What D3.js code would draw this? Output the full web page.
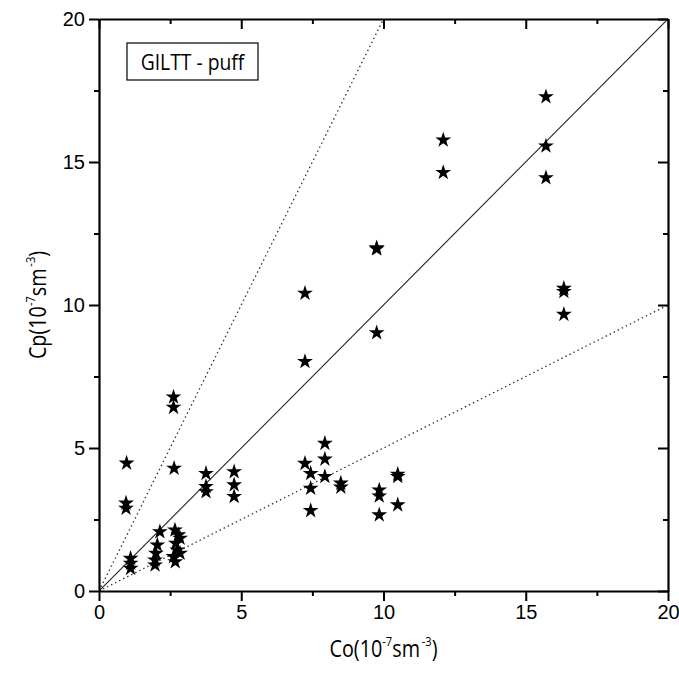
<!DOCTYPE html>
<html><head><meta charset="utf-8">
<script src="https://cdn.jsdelivr.net/npm/d3@7"></script>
<style>body{margin:0;background:#fff}</style>
</head><body>
<svg id="c" width="679" height="682"></svg>
<script>
const coValues = [0.97, 0.95, 0.95, 1.11, 1.11, 1.11,
  2.14, 2.05, 2.0, 1.97, 1.97,
  2.67, 2.79, 2.85, 2.7, 2.75, 2.62, 2.68, 2.85, 2.64, 2.62, 2.62,
  3.76, 3.76, 3.76, 4.75, 4.75, 4.75,
  7.24, 7.24, 7.24, 7.44, 7.44, 7.44, 7.94, 7.94, 7.94, 8.5, 8.5,
  9.76, 9.76, 9.76, 9.85, 9.85, 9.85, 10.5, 10.5, 10.5,
  12.1, 12.1, 15.71, 15.71, 15.71, 16.34, 16.34, 16.34];
const cpValues = [4.47, 3.07, 2.89, 1.14, 0.97, 0.79,
  2.07, 1.61, 1.32, 1.08, 0.91,
  2.13, 1.96, 1.84, 1.67, 1.43, 1.2, 1.02, 1.32, 4.29, 6.78, 6.42,
  4.11, 3.65, 3.47, 4.17, 3.71, 3.30,
  10.41, 8.02, 4.46, 4.11, 3.59, 2.81, 5.16, 4.61, 4.0, 3.77, 3.63,
  11.96, 12.0, 9.03, 3.53, 3.32, 2.66, 4.08, 4.0, 3.01,
  15.77, 14.63, 17.28, 15.56, 14.45, 10.58, 10.47, 9.67];
const xTicks = [0, 5, 10, 15, 20];
const yTicks = [0, 5, 10, 15, 20];
const minorTicks = [2.5, 7.5, 12.5, 17.5];
const refLines = [
  {slope: 1, dash: null},
  {slope: 2, dash: "1.5,3"},
  {slope: 0.5, dash: "1.5,3"}
];
const labelText = "GILTT - puff";

const svg = d3.select("#c");
const L = 99, R = 668, T = 19, B = 591;
const x = d3.scaleLinear().domain([0, 20]).range([L, R]);
const y = d3.scaleLinear().domain([0, 20]).range([B, T]);
const plot = svg.append("g");

svg.append("clipPath").attr("id","cl").append("rect")
  .attr("x", L).attr("y", T).attr("width", R-L).attr("height", B-T);
refLines.forEach(r => {
  const xe = Math.min(20, 20 / r.slope);
  plot.append("line").attr("clip-path","url(#cl)")
    .attr("x1", x(0)).attr("y1", y(0)).attr("x2", x(xe)).attr("y2", y(xe * r.slope))
    .attr("stroke", r.dash ? "#333" : "#222").attr("stroke-width", r.dash ? 1.3 : 1.1)
    .attr("stroke-dasharray", r.dash);
});

const star = d3.symbol().type(d3.symbolStar).size(78);
plot.selectAll("path.pt").data(coValues.map((v,i)=>[v, cpValues[i]])).enter()
  .append("path").attr("class","pt")
  .attr("d", star)
  .attr("transform", d => `translate(${x(d[0])},${y(d[1])})`)
  .attr("fill", "#000");

function styleAxis(g){
  g.select(".domain").attr("stroke-width", 2.2).attr("stroke","#000");
  g.selectAll(".tick line").attr("stroke-width", 2).attr("stroke","#000");
  g.selectAll(".tick text").attr("font-family","'Liberation Sans', Arial, sans-serif")
    .attr("font-size", 20).attr("fill","#000");
}
function minor(g){ g.select(".domain").remove(); g.selectAll("line").attr("stroke-width",2).attr("stroke","#000"); }

const axB = svg.append("g").attr("transform", `translate(0,${B})`)
  .call(d3.axisBottom(x).tickValues(xTicks).tickSize(10).tickSizeOuter(0).tickPadding(4));
styleAxis(axB);
svg.append("g").attr("transform", `translate(0,${B})`)
  .call(d3.axisBottom(x).tickValues(minorTicks).tickSize(5).tickSizeOuter(0).tickFormat("")).call(minor);
const axL = svg.append("g").attr("transform", `translate(${L},0)`)
  .call(d3.axisLeft(y).tickValues(yTicks).tickSize(10).tickSizeOuter(0).tickPadding(4));
styleAxis(axL);
svg.append("g").attr("transform", `translate(${L},0)`)
  .call(d3.axisLeft(y).tickValues(minorTicks).tickSize(5).tickSizeOuter(0).tickFormat("")).call(minor);
const axT = svg.append("g").attr("transform", `translate(0,${T})`)
  .call(d3.axisBottom(x).tickValues(xTicks).tickSize(10).tickSizeOuter(0).tickFormat(""));
styleAxis(axT);
svg.append("g").attr("transform", `translate(0,${T})`)
  .call(d3.axisBottom(x).tickValues(minorTicks).tickSize(5).tickSizeOuter(0).tickFormat("")).call(minor);
const axR = svg.append("g").attr("transform", `translate(${R},0)`)
  .call(d3.axisLeft(y).tickValues(yTicks).tickSize(10).tickSizeOuter(0).tickFormat(""));
styleAxis(axR);
svg.append("g").attr("transform", `translate(${R},0)`)
  .call(d3.axisLeft(y).tickValues(minorTicks).tickSize(5).tickSizeOuter(0).tickFormat("")).call(minor);

const tf = "'Open Sans', sans-serif";
function title(g, main){
  g.append("tspan").text(main + "(10");
  g.append("tspan").attr("font-size", 13).attr("dy", -11).text("-7");
  g.append("tspan").attr("dy", 11).text("sm");
  g.append("tspan").attr("font-size", 13).attr("dx", 2).attr("dy", -11).text("-3");
  g.append("tspan").attr("dy", 11).text(")");
}
const xt = svg.append("text").attr("transform", `translate(${(L+R)/2},657) scale(0.86,1)`)
  .attr("text-anchor","middle").attr("font-family", tf).attr("font-size", 23);
title(xt, "Co");
const yt = svg.append("text").attr("transform", `translate(46,${(T+B)/2}) rotate(-90) scale(0.86,1)`)
  .attr("text-anchor","middle").attr("font-family", tf).attr("font-size", 23);
title(yt, "Cp");

svg.append("rect").attr("x", 127).attr("y", 43).attr("width", 131).attr("height", 37)
  .attr("fill","#fff").attr("stroke","#000").attr("stroke-width",1.2);
svg.append("text").attr("transform", "translate(192.5,70) scale(0.92,1)").attr("text-anchor","middle")
  .attr("font-family","'Open Sans', sans-serif").attr("font-size", 21).text(labelText);
</script>
</body></html>
